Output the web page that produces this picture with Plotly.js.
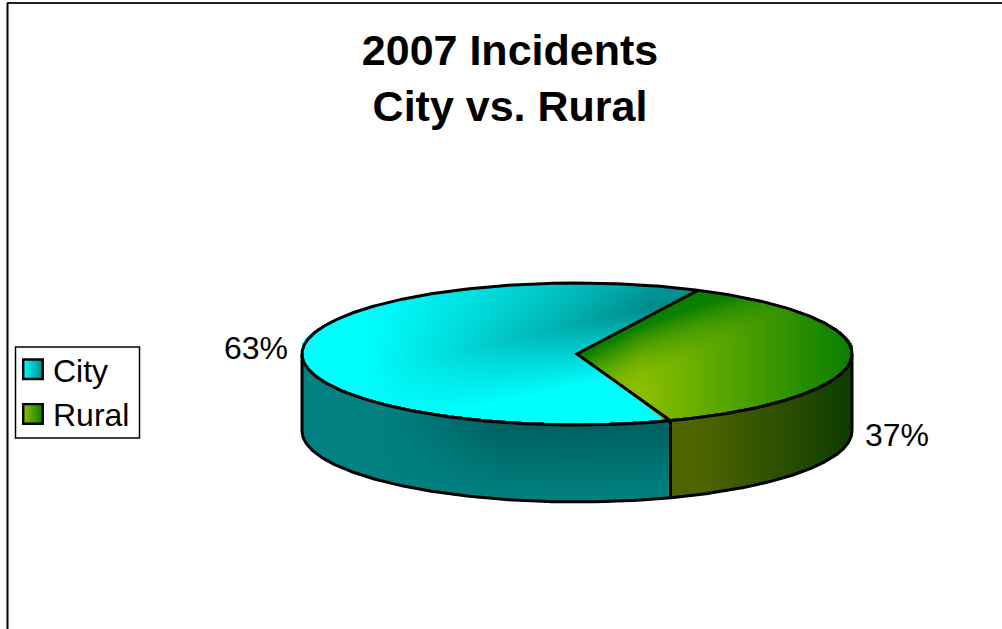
<!DOCTYPE html>
<html>
<head>
<meta charset="utf-8">
<script src="https://cdn.plot.ly/plotly-3.0.1.min.js"></script>
<style>html,body{margin:0;padding:0;background:#fff}#chart{width:1002px;height:629px}</style>
</head>
<body>
<div id="chart"></div>
<script>
const categories = ['City', 'Rural'];
const shares = [62.8, 37.2];
const titleText = '<b>2007 Incidents<br>City vs. Rural</b>';

const W = 1002, H = 629;
const cx = 577, cy = 354, rx = 275, ry = 71, depth = 77;
const ruralStart = 26.2;
const ruralEnd = ruralStart + shares[1] * 3.6;
const FONT = 'Liberation Sans, Arial, sans-serif';

const clamp = v => Math.max(0, Math.min(1, v));
const rad = d => d * Math.PI / 180;
const px = a => cx + rx * Math.sin(rad(a));
const py = a => cy - ry * Math.cos(rad(a));

function arc(a, b, dy) {
  const X = [], Y = [], n = Math.ceil(Math.abs(b - a) * 2);
  for (let i = 0; i <= n; i++) {
    const t = a + (b - a) * i / n;
    X.push(px(t)); Y.push(py(t) + dy);
  }
  return [X, Y];
}

function angleOf(x, y) {
  let a = Math.atan2((x - cx) / rx, (cy - y) / ry) * 180 / Math.PI;
  return a < 0 ? a + 360 : a;
}
function inTop(x, y) {
  const u = (x - cx) / rx, v = (y - cy) / ry;
  return u * u + v * v <= 1.02;
}
function lowerEdge(x) {
  const u = (x - cx) / rx;
  return cy + ry * Math.sqrt(Math.max(0, 1 - u * u));
}

function heat(x0, x1, y0, y1, shade, scale) {
  const xs = [], ys = [], z = [];
  for (let x = x0; x <= x1; x++) xs.push(x + 0.5);
  for (let y = y0; y <= y1; y++) {
    ys.push(y + 0.5);
    const row = [];
    for (let x = x0; x <= x1; x++) row.push(shade(x + 0.5, y + 0.5));
    z.push(row);
  }
  return {type: 'heatmap', x: xs, y: ys, z, zmin: 0, zmax: 1, zsmooth: false,
    colorscale: scale, showscale: false, hoverinfo: 'skip', showlegend: false};
}

function cityTop(x, y) {
  if (!inTop(x, y)) return null;
  const a = angleOf(x, y);
  if (a > ruralStart + 1 && a < ruralEnd - 1) return null;
  const ridge = 352 - 0.22 * (x - 450);
  const d = y - ridge;
  const f = d > 0 ? clamp(1 - d / 62) : clamp(1 + d / 170);
  return clamp((x - 360) / 290) * f;
}
function ruralTop(x, y) {
  if (!inTop(x, y)) return null;
  const a = angleOf(x, y);
  if (a < ruralStart - 1 || a > ruralEnd + 1) return null;
  const ridge = 390 - 0.51 * (x - 643);
  const d = Math.max(0, ridge - y);
  return clamp(clamp((x - 640) / 210) + Math.pow(d / 65, 2));
}
function cityWall(x, y) {
  if (x > px(ruralEnd) || x < cx - rx) return null;
  const e = lowerEdge(x);
  if (y < e - 2 || y > e + depth + 1) return null;
  return clamp((x - 380) / 120) * clamp(1 - (y - e) / 75);
}
function ruralWall(x, y) {
  if (x < px(ruralEnd) || x > cx + rx) return null;
  const e = lowerEdge(x);
  if (y < e - 2 || y > e + depth + 1) return null;
  return clamp((x - 700) / 150);
}

const traces = [
  heat(cx - rx, cx + rx, cy - ry, cy + ry, cityTop, [[0, '#00ffff'], [1, '#008a8a']]),
  heat(cx - 5, cx + rx, cy - ry, cy + ry, ruralTop, [[0, '#8cbf00'], [1, '#0a7f00']]),
  heat(cx - rx, Math.ceil(px(ruralEnd)), cy - 5, cy + ry + depth + 2, cityWall, [[0, '#008080'], [1, '#006060']]),
  heat(Math.floor(px(ruralEnd)), cx + rx, cy - 5, cy + ry + depth + 2, ruralWall, [[0, '#4e6400'], [1, '#0e3d00']])
];

function outline(X, Y) {
  return {type: 'scatter', mode: 'lines', x: X, y: Y, line: {color: '#000', width: 3},
    hoverinfo: 'skip', showlegend: false};
}
const [ax, ay] = arc(0, 360, 0);
traces.push(outline(ax, ay));
const [bx, by] = arc(90, 270, depth);
traces.push(outline(bx, by));
traces.push(outline([px(90), px(90)], [cy, cy + depth]));
traces.push(outline([px(270), px(270)], [cy, cy + depth]));
traces.push(outline([px(ruralEnd), px(ruralEnd)], [py(ruralEnd), py(ruralEnd) + depth]));
traces.push(outline([px(ruralStart), cx, px(ruralEnd)], [py(ruralStart), cy, py(ruralEnd)]));

const swatches = [['#00ffff', '#008a8a'], ['#8cbf00', '#0a7f00']];
categories.forEach((name, i) => {
  traces.push({type: 'scatter', mode: 'markers', name, x: [null], y: [null],
    marker: {symbol: 'square', size: 16, color: swatches[i][0],
      gradient: {type: 'horizontal', color: swatches[i][1]},
      line: {color: '#000', width: 2}},
    hoverinfo: 'skip'});
});

const layout = {
  width: W, height: H,
  margin: {l: 0, r: 0, t: 0, b: 0},
  paper_bgcolor: '#fff', plot_bgcolor: '#fff',
  xaxis: {range: [0, W], visible: false, fixedrange: true},
  yaxis: {range: [H, 0], visible: false, fixedrange: true},
  title: {text: titleText, x: 510 / W, xanchor: 'center', y: 0.897, yanchor: 'top',
    font: {family: FONT, size: 43, color: '#000'}},
  legend: {x: 13 / W, y: 1 - 342 / H, xanchor: 'left', yanchor: 'top',
    bgcolor: 'rgba(0,0,0,0)', borderwidth: 0,
    font: {family: FONT, size: 32, color: '#000'}},
  annotations: [
    {x: 290, y: 348, text: Math.round(shares[0]) + '%', xanchor: 'right', yanchor: 'middle', showarrow: false,
      font: {family: FONT, size: 32, color: '#000'}},
    {x: 863, y: 435, text: Math.round(shares[1]) + '%', xanchor: 'left', yanchor: 'middle', showarrow: false,
      font: {family: FONT, size: 32, color: '#000'}}
  ],
  shapes: [
    {type: 'line', xref: 'x', yref: 'y', x0: 7, y0: 3, x1: W, y1: 3, line: {color: '#222', width: 2}},
    {type: 'line', xref: 'x', yref: 'y', x0: 7.5, y0: 3, x1: 7.5, y1: H, line: {color: '#000', width: 2}},
    {type: 'rect', xref: 'x', yref: 'y', x0: 15.5, y0: 347, x1: 139.5, y1: 438, line: {color: '#000', width: 1.5}, fillcolor: '#fff'}
  ],
  showlegend: true
};
Plotly.newPlot('chart', traces, layout, {displayModeBar: false, staticPlot: true}).then(gd => {
  gd.querySelectorAll('.legendpoints path.scatterpts').forEach(p => {
    p.setAttribute('transform', (p.getAttribute('transform') || '') + ' scale(1.22)');
  });
});
</script>
</body>
</html>
